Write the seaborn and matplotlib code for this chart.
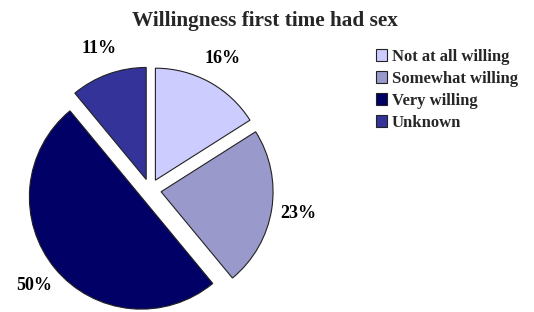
import matplotlib
matplotlib.use("Agg")
import matplotlib.pyplot as plt
import seaborn as sns
from matplotlib.patches import Patch

# Data
categories = ["Not at all willing", "Somewhat willing", "Very willing", "Unknown"]
shares = [16, 23, 50, 11]
colors = ["#CCCCFF", "#9999CC", "#000066", "#333399"]

sns.set_style("white")
plt.rcParams['font.family'] = ['Liberation Serif', 'DejaVu Serif']

W, H = 534, 312
fig = plt.figure(figsize=(W / 100, H / 100), dpi=100)

# pie axes: 1 data unit = R px, centre at (cx, cy) px from top-left
R, cx, cy = 112, 150, 190
half = 1.3
ax = fig.add_axes([(cx - half * R) / W, (H - cy - half * R) / H,
                   2 * half * R / W, 2 * half * R / H])

wedges, texts, autotexts = ax.pie(
    shares, colors=colors, startangle=90, counterclock=False,
    explode=[0.1] * len(shares), autopct="%d%%", pctdistance=1.24,
    wedgeprops=dict(edgecolor="#222222", linewidth=0.8),
    textprops=dict(fontsize=13, fontweight="bold", color="black"),
)
ax.set_xlim(-half, half)
ax.set_ylim(-half, half)
ax.set_aspect("equal")
ax.axis("off")

fig.text(265 / W, 1 - 21 / H, "Willingness first time had sex",
         ha="center", va="center", fontsize=15.3, fontweight="bold")

handles = [Patch(facecolor=c, edgecolor="#222222", linewidth=0.8) for c in colors]
fig.legend(handles, categories, loc="upper left",
           bbox_to_anchor=(369 / W, 1 - 42 / H), frameon=False,
           prop=dict(size=12, weight="bold"),
           handlelength=0.7, handleheight=0.7, handletextpad=0.25,
           labelspacing=0.36, borderaxespad=0)

fig.savefig("out.png", dpi=100, facecolor="white")
